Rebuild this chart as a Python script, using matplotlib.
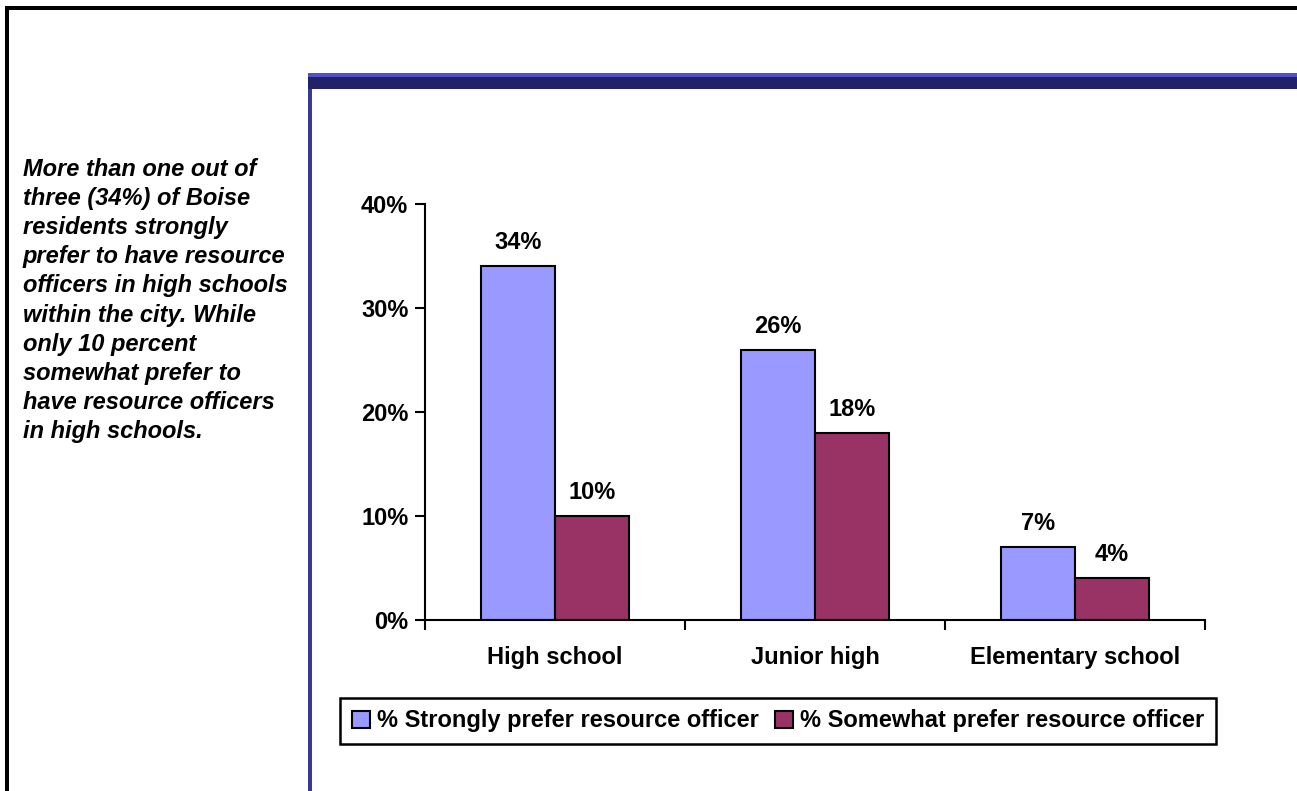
import matplotlib.pyplot as plt
from matplotlib.patches import Rectangle

categories = ['High school', 'Junior high', 'Elementary school']
strongly = [34, 26, 7]
somewhat = [10, 18, 4]
series_names = ['% Strongly prefer resource officer', '% Somewhat prefer resource officer']
y_ticks = [0, 10, 20, 30, 40]

note = ("More than one out of\nthree (34%) of Boise\nresidents strongly\n"
        "prefer to have resource\nofficers in high schools\nwithin the city. While\n"
        "only 10 percent\nsomewhat prefer to\nhave resource officers\nin high schools.")

plt.rcParams['font.family'] = ['Liberation Sans', 'DejaVu Sans']
plt.rcParams['font.weight'] = 'bold'
FS = 17

W, H = 1297, 791
fig = plt.figure(figsize=(W / 100, H / 100), dpi=100)

def px_rect(x0, y0, x1, y1, color):
    # rectangle given in pixel coords, y measured from the top
    fig.patches.append(Rectangle((x0 / W, 1 - y1 / H), (x1 - x0) / W, (y1 - y0) / H,
                                 transform=fig.transFigure, facecolor=color,
                                 edgecolor='none', zorder=0))

# slide frame
px_rect(5, 6, W, 10, 'black')
px_rect(5, 6, 9, H, 'black')
px_rect(308, 73, W, 77, '#5252c2')
px_rect(308, 77, W, 89, '#22226a')
px_rect(308, 89, 312, H, '#383899')

fig.text(23 / W, 1 - 158 / H, note, fontsize=17, fontstyle='italic', fontweight='bold',
         va='top', ha='left', linespacing=1.34)

ax = fig.add_axes([425 / W, 1 - 620 / H, 780 / W, 416 / H])
x = range(len(categories))
w = 0.285
b1 = ax.bar([i - w / 2 for i in x], strongly, w, color='#9999ff', edgecolor='black',
            linewidth=1.5, label=series_names[0])
b2 = ax.bar([i + w / 2 for i in x], somewhat, w, color='#993366', edgecolor='black',
            linewidth=1.5, label=series_names[1])

for bars, vals in ((b1, strongly), (b2, somewhat)):
    for bar, v in zip(bars, vals):
        ax.text(bar.get_x() + bar.get_width() / 2, v + 1.15, f'{v}%', ha='center',
                va='bottom', fontsize=FS, fontweight='bold')

ax.set_xlim(-0.5, 2.5)
ax.set_ylim(0, 40)
ax.set_yticks(y_ticks)
ax.set_yticklabels([f'{t}%' for t in y_ticks], fontsize=FS, fontweight='bold')
ax.tick_params(axis='y', length=7, width=1.5, pad=5)

ax.set_xticks([-0.5, 0.5, 1.5, 2.5])
ax.set_xticklabels([])
ax.tick_params(axis='x', which='major', length=7, width=1.5)
ax.set_xticks(list(x), minor=True)
ax.set_xticklabels(categories, minor=True, fontsize=FS, fontweight='bold')
ax.tick_params(axis='x', which='minor', length=0, pad=19)

for s in ('top', 'right'):
    ax.spines[s].set_visible(False)
for s in ('left', 'bottom'):
    ax.spines[s].set_linewidth(1.5)

leg = fig.legend(loc='center', bbox_to_anchor=(778 / W, 1 - 721 / H), ncol=2,
                 fontsize=FS, frameon=True, fancybox=False, edgecolor='black',
                 framealpha=1, handlelength=0.75, handleheight=0.75,
                 handletextpad=0.3, columnspacing=0.7, borderpad=0.5,
                 borderaxespad=0)
leg.get_frame().set_linewidth(1.8)

fig.savefig('out.png', dpi=100)
